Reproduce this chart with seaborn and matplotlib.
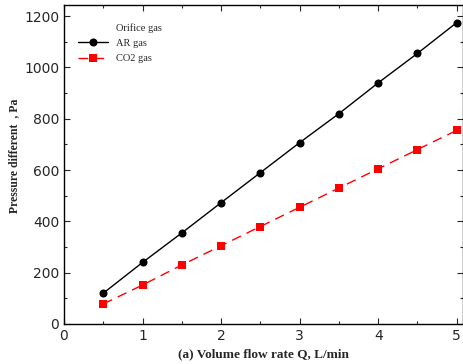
import numpy as np
import pandas as pd
import matplotlib
matplotlib.use("Agg")
import matplotlib.pyplot as plt
import seaborn as sns
from matplotlib.ticker import MultipleLocator

flow = [0.5, 1.0, 1.5, 2.0, 2.5, 3.0, 3.5, 4.0, 4.5, 5.0]
ar_gas = [120, 240, 355, 473, 590, 707, 820, 940, 1055, 1175]
co2_gas = [78, 152, 230, 305, 380, 455, 530, 605, 680, 755]
series_names = ["AR gas", "CO2 gas"]
legend_title = "Orifice gas"

df = pd.DataFrame({
    "Q": flow * 2,
    "P": ar_gas + co2_gas,
    "gas": [series_names[0]] * len(flow) + [series_names[1]] * len(flow),
})

sns.set_style("ticks")
plt.rcParams['font.family'] = ['DejaVu Sans']

fig = plt.figure(figsize=(4.64, 3.64), dpi=100)
ax = fig.add_axes([0.1379, 0.1099, 0.860, 0.876])

sns.lineplot(data=df, x="Q", y="P", hue="gas", style="gas",
             palette={"AR gas": "black", "CO2 gas": "red"},
             markers={"AR gas": "o", "CO2 gas": "s"},
             dashes={"AR gas": "", "CO2 gas": (7, 4.5)},
             markersize=5.8, markeredgewidth=0, linewidth=1.0, ax=ax)

ax.set_xlim(0, 5.08)
ax.set_ylim(0, 1243)
ax.xaxis.set_major_locator(MultipleLocator(1))
ax.xaxis.set_minor_locator(MultipleLocator(0.5))
ax.yaxis.set_major_locator(MultipleLocator(200))
ax.yaxis.set_minor_locator(MultipleLocator(100))
ax.tick_params(which="both", direction="in", top=True, right=True, labelsize=10, width=0.8)
ax.tick_params(which="major", length=4)
ax.tick_params(which="minor", length=2)
for s in ax.spines.values():
    s.set_linewidth(1.0)
    s.set_color("black")

ax.set_xlabel("(a) Volume flow rate Q, L/min", fontfamily="Liberation Serif",
              fontweight="bold", fontsize=9.5, labelpad=4)
ax.set_ylabel("Pressure different  , Pa", fontfamily="Liberation Serif",
              fontweight="bold", fontsize=8.5, labelpad=3)
ax.yaxis.label.set_y(0.527)

leg = ax.legend(loc="upper left", bbox_to_anchor=(0.0125, 0.925),
                frameon=False, prop={"family": "Liberation Serif", "size": 7.5},
                handlelength=2.8, borderaxespad=0.5, labelspacing=0.6)
ax.text(0.130, 0.928, legend_title, transform=ax.transAxes, ha="left", va="center",
        fontfamily="Liberation Serif", fontsize=7.5)

fig.savefig("out.png", dpi=100)
